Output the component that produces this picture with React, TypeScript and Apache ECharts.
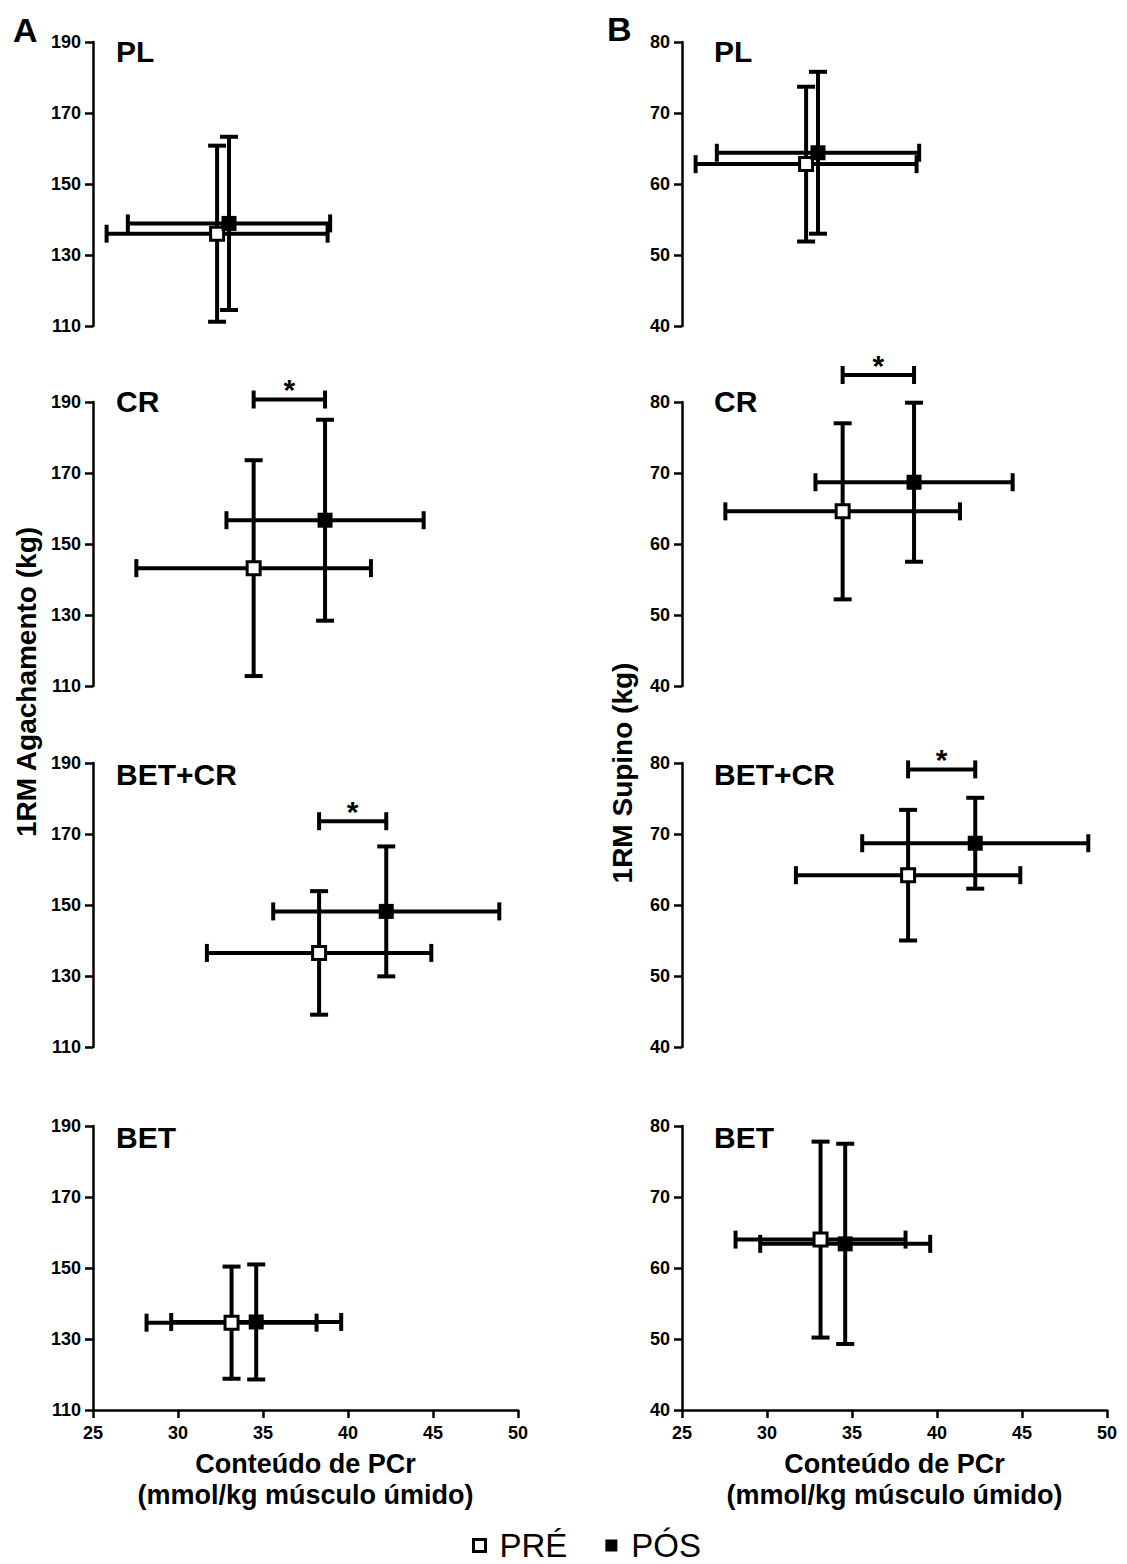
import React, { useEffect, useRef } from "react";
import * as echarts from "echarts";

// ---------- data ----------
const groups = ["PL", "CR", "BET+CR", "BET"];
// PCr content (x), shared by both columns
const pcrPre = [32.3, 34.45, 38.3, 33.15];
const pcrPreSD = [6.5, 6.9, 6.6, 5.0];
const pcrPos = [33.0, 38.65, 42.25, 34.6];
const pcrPosSD = [5.95, 5.8, 6.65, 5.0];
// 1RM squat (column A)
const squatPre = [136.0, 143.2, 136.5, 134.6];
const squatPreSD = [24.8, 30.4, 17.4, 15.8];
const squatPos = [138.9, 156.7, 148.2, 134.8];
const squatPosSD = [24.4, 28.3, 18.3, 16.2];
// 1RM bench press (column B)
const benchPre = [62.8, 64.6, 64.2, 64.0];
const benchPreSD = [10.9, 12.4, 9.2, 13.8];
const benchPos = [64.4, 68.7, 68.7, 63.4];
const benchPosSD = [11.4, 11.2, 6.4, 14.1];
// significance brackets (y level of the bracket; null = none)
const sigSquatY = [null, 190.7, 173.6, null];
const sigBenchY = [null, 83.8, 79.1, null];
// axes
const xMin = 25, xMax = 50, xStep = 5;
const squatMin = 110, squatMax = 190, squatStep = 20;
const benchMin = 40, benchMax = 80, benchStep = 10;
const panelLetters = ["A", "B"];
const yTitles = ["1RM Agachamento (kg)", "1RM Supino (kg)"];
const xTitle = "Conteúdo de PCr\n(mmol/kg músculo úmido)";
const legendNames = ["PRÉ", "PÓS"];

// ---------- layout / style ----------
const FONT = '"Liberation Sans", Arial, sans-serif';
const colLeft = [93, 682];
const colWidth = 425;
const rowTop = [42, 402, 763, 1126];
const rowHeight = 284;
const titleX = [116, 714];
const titleY = [51, 401, 774, 1137];
const CAP = 9;
const LW = 4;

function renderErr(params: any, api: any) {
  const x = api.value(0), y = api.value(1), sx = api.value(2), sy = api.value(3);
  const l = api.coord([x - sx, y]);
  const r = api.coord([x + sx, y]);
  const t = api.coord([x, y + sy]);
  const b = api.coord([x, y - sy]);
  const style = { stroke: "#000", lineWidth: LW, fill: null };
  const ln = (x1: number, y1: number, x2: number, y2: number) => ({
    type: "line",
    shape: { x1, y1, x2, y2 },
    style,
  });
  return {
    type: "group",
    children: [
      ln(l[0], l[1], r[0], r[1]),
      ln(l[0], l[1] - CAP, l[0], l[1] + CAP),
      ln(r[0], r[1] - CAP, r[0], r[1] + CAP),
      ln(t[0], t[1], b[0], b[1]),
      ln(t[0] - CAP, t[1], t[0] + CAP, t[1]),
      ln(b[0] - CAP, b[1], b[0] + CAP, b[1]),
    ],
  };
}

function renderSig(params: any, api: any) {
  const a = api.coord([api.value(0), api.value(2)]);
  const b = api.coord([api.value(1), api.value(2)]);
  const style = { stroke: "#000", lineWidth: LW, fill: null };
  return {
    type: "group",
    children: [
      { type: "line", shape: { x1: a[0], y1: a[1], x2: b[0], y2: b[1] }, style },
      { type: "line", shape: { x1: a[0], y1: a[1] - CAP, x2: a[0], y2: a[1] + CAP }, style },
      { type: "line", shape: { x1: b[0], y1: b[1] - CAP, x2: b[0], y2: b[1] + CAP }, style },
      {
        type: "text",
        x: (a[0] + b[0]) / 2,
        y: a[1] - 10,
        style: {
          text: "*",
          fontSize: 30,
          fontWeight: "bold",
          fontFamily: FONT,
          fill: "#000",
          textAlign: "center",
          textVerticalAlign: "middle",
          align: "center",
          verticalAlign: "middle",
        },
      },
    ],
  };
}

function buildOption() {
  const grid: any[] = [];
  const xAxis: any[] = [];
  const yAxis: any[] = [];
  const series: any[] = [];
  const graphic: any[] = [];

  for (let c = 0; c < 2; c++) {
    const yv = c === 0 ? [squatPre, squatPreSD, squatPos, squatPosSD] : [benchPre, benchPreSD, benchPos, benchPosSD];
    const sigY = c === 0 ? sigSquatY : sigBenchY;
    const [mn, mx, st] = c === 0 ? [squatMin, squatMax, squatStep] : [benchMin, benchMax, benchStep];
    for (let r = 0; r < groups.length; r++) {
      const gi = c * 4 + r;
      const bottomRow = r === groups.length - 1;
      grid.push({ left: colLeft[c], top: rowTop[r], width: colWidth, height: rowHeight, containLabel: false });
      xAxis.push({
        gridIndex: gi,
        type: "value",
        min: xMin,
        max: xMax,
        interval: xStep,
        show: bottomRow,
        axisLine: { show: true, onZero: false, lineStyle: { color: "#000", width: 2.5 } },
        axisTick: { show: true, length: 8, lineStyle: { color: "#000", width: 2.5 } },
        axisLabel: { show: true, fontSize: 18, fontWeight: "bold", color: "#000", fontFamily: FONT, margin: 14 },
        splitLine: { show: false },
        name: bottomRow ? xTitle : "",
        nameLocation: "middle",
        nameGap: 38,
        nameTextStyle: { fontSize: 27, fontWeight: "bold", color: "#000", fontFamily: FONT, lineHeight: 31 },
      });
      yAxis.push({
        gridIndex: gi,
        type: "value",
        min: mn,
        max: mx,
        interval: st,
        axisLine: { show: true, onZero: false, lineStyle: { color: "#000", width: 2.5 } },
        axisTick: { show: true, length: 8, lineStyle: { color: "#000", width: 2.5 } },
        axisLabel: { show: true, fontSize: 18, fontWeight: "bold", color: "#000", fontFamily: FONT, margin: 12 },
        splitLine: { show: false },
      });
      series.push({
        type: "custom",
        xAxisIndex: gi,
        yAxisIndex: gi,
        renderItem: renderErr,
        encode: { x: 0, y: 1 },
        z: 2,
        silent: true,
        data: [
          [pcrPre[r], yv[0][r], pcrPreSD[r], yv[1][r]],
          [pcrPos[r], yv[2][r], pcrPosSD[r], yv[3][r]],
        ],
      });
      series.push({
        name: legendNames[0],
        type: "scatter",
        xAxisIndex: gi,
        yAxisIndex: gi,
        symbol: "rect",
        symbolSize: 13,
        z: 3,
        silent: true,
        itemStyle: { color: "#fff", borderColor: "#000", borderWidth: 3, opacity: 1 },
        data: [[pcrPre[r], yv[0][r]]],
      });
      series.push({
        name: legendNames[1],
        type: "scatter",
        xAxisIndex: gi,
        yAxisIndex: gi,
        symbol: "rect",
        symbolSize: 15,
        z: 4,
        silent: true,
        itemStyle: { color: "#000", opacity: 1 },
        data: [[pcrPos[r], yv[2][r]]],
      });
      if (sigY[r] !== null) {
        series.push({
          type: "custom",
          xAxisIndex: gi,
          yAxisIndex: gi,
          renderItem: renderSig,
          encode: { x: [0, 1], y: 2 },
          clip: false,
          z: 2,
          silent: true,
          data: [[pcrPre[r], pcrPos[r], sigY[r]]],
        });
      }
      graphic.push({
        type: "text",
        x: titleX[c],
        y: titleY[r],
        style: {
          text: groups[r],
          fontSize: 30,
          fontWeight: "bold",
          fontFamily: FONT,
          fill: "#000",
          textAlign: "left",
          textVerticalAlign: "middle",
        },
      });
    }
  }

  graphic.push(
    {
      type: "text",
      x: 13,
      y: 30,
      style: { text: panelLetters[0], fontSize: 34, fontWeight: "bold", fontFamily: FONT, fill: "#000", textAlign: "left", textVerticalAlign: "middle" },
    },
    {
      type: "text",
      x: 607,
      y: 29,
      style: { text: panelLetters[1], fontSize: 34, fontWeight: "bold", fontFamily: FONT, fill: "#000", textAlign: "left", textVerticalAlign: "middle" },
    },
    {
      type: "text",
      x: 26,
      y: 682,
      rotation: Math.PI / 2,
      style: { text: yTitles[0], fontSize: 28, fontWeight: "bold", fontFamily: FONT, fill: "#000", textAlign: "center", textVerticalAlign: "middle" },
    },
    {
      type: "text",
      x: 622,
      y: 773,
      rotation: Math.PI / 2,
      style: { text: yTitles[1], fontSize: 28, fontWeight: "bold", fontFamily: FONT, fill: "#000", textAlign: "center", textVerticalAlign: "middle" },
    }
  );

  return {
    animation: false,
    backgroundColor: "#fff",
    textStyle: { fontFamily: FONT, color: "#000" },
    grid,
    xAxis,
    yAxis,
    series,
    graphic,
    legend: {
      left: 472,
      top: 1529,
      padding: 0,
      itemWidth: 12,
      itemHeight: 12,
      itemGap: 38,
      selectedMode: false,
      textStyle: { fontSize: 33, fontWeight: "normal", color: "#000", fontFamily: FONT, padding: [0, 0, 0, 9] },
      data: [
        { name: legendNames[0], icon: "rect", itemStyle: { color: "#fff", borderColor: "#000", borderWidth: 3 } },
        { name: legendNames[1], icon: "rect", itemStyle: { color: "#000", borderWidth: 0 } },
      ],
    },
  };
}

export default function App() {
  const ref = useRef<HTMLDivElement>(null);
  useEffect(() => {
    if (!ref.current) return;
    const chart = echarts.init(ref.current, null, { renderer: "svg" });
    chart.setOption(buildOption() as any);
    return () => chart.dispose();
  }, []);
  return (
    <div
      ref={ref}
      style={{ position: "absolute", left: 0, top: 0, width: 1127, height: 1564, background: "#fff" }}
    />
  );
}
